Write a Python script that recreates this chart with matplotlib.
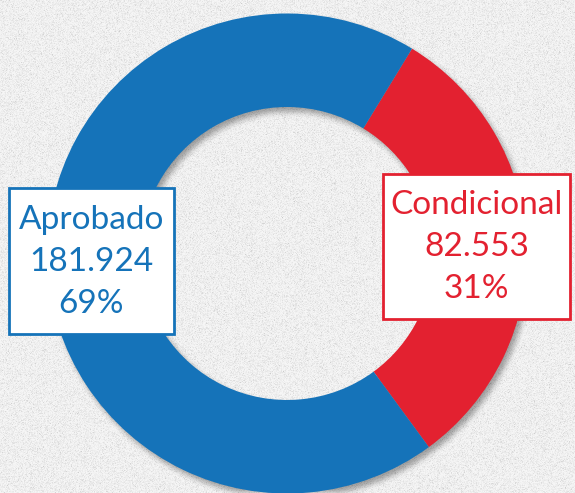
import numpy as np
import matplotlib
matplotlib.use("Agg")
import matplotlib.pyplot as plt
from matplotlib.patches import Rectangle

# data
labels = ["Condicional", "Aprobado"]
values = [82553, 181924]
shares = ["31%", "69%"]
colors = ["#e32130", "#1573b9"]

W, H = 575, 493
cx, cy = 287, H - 253.5
r_out, r_in = 240, 146.5

fig = plt.figure(figsize=(W / 100, H / 100), dpi=100)
ax = fig.add_axes([0, 0, 1, 1])

# speckled light background
rng = np.random.default_rng(3)
tex = 247 - np.abs(rng.normal(0, 11, (H, W)))
tex = np.clip(tex, 195, 252) / 255.0
ax.imshow(np.dstack([tex, tex, tex]), extent=(0, W, 0, H), origin="upper", zorder=0)

# soft drop shadow of the ring
yy, xx = np.mgrid[0:H, 0:W]
d = np.hypot(xx - (cx + 3), (H - yy) - (cy - 4))
mask = ((d <= r_out) & (d >= r_in)).astype(float)
k = np.ones(7) / 7
for _ in range(2):
    mask = np.apply_along_axis(lambda v: np.convolve(v, k, mode="same"), 1, mask)
    mask = np.apply_along_axis(lambda v: np.convolve(v, k, mode="same"), 0, mask)
shadow = np.zeros((H, W, 4))
shadow[..., 3] = mask * 0.35
ax.imshow(shadow, extent=(0, W, 0, H), origin="upper", zorder=1)

ax.pie(values, colors=colors, startangle=58.6, counterclock=False,
       center=(cx, cy), radius=r_out,
       wedgeprops=dict(width=r_out - r_in, linewidth=0, zorder=2))
ax.set_xlim(0, W)
ax.set_ylim(0, H)
ax.set_aspect("auto")
ax.axis("off")

fmt = lambda v: f"{v:,}".replace(",", ".")

# label boxes
boxes = {
    "Aprobado": (9, H - 334, 165, 146),
    "Condicional": (383, H - 319, 187, 145),
}
for lab, val, pct, col in zip(labels, values, shares, colors):
    x0, y0, bw, bh = boxes[lab]
    ax.add_patch(Rectangle((x0, y0), bw, bh, facecolor="white",
                           edgecolor=col, linewidth=2, zorder=3))
    ax.text(x0 + bw / 2, y0 + bh / 2 - 1, f"{lab}\n{fmt(val)}\n{pct}",
            ha="center", va="center", color=col, fontsize=24,
            family="Lato", linespacing=1.5, zorder=4)

fig.savefig("out.png", dpi=100)
